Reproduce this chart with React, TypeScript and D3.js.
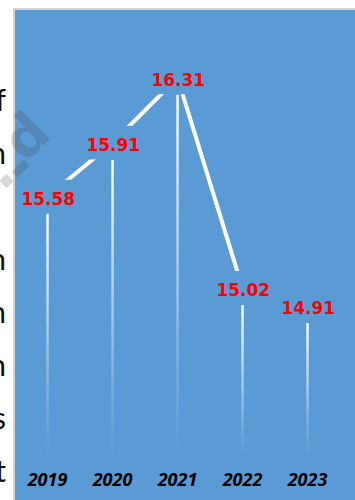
import React from "react";
import * as d3 from "d3";

const years = ["2019", "2020", "2021", "2022", "2023"];
const values = [15.58, 15.91, 16.31, 15.02, 14.91];
const trendYears = ["2019", "2020", "2021", "2022"];
const sideWords = ["", "of", "in", "", "in", "on", "in", "is", "at"];

const W = 355;
const H = 500;
const PANEL = "#5B9BD5";

export default function App() {
  const x = d3.scaleBand<string>().domain(years).range([15, 340]).padding(0);
  const y = d3.scaleLinear().domain([14.1, 16.5]).range([455, 63.8]);
  const cx = (yr: string) => (x(yr) as number) + x.bandwidth() / 2;
  const data = years.map((yr, i) => ({ yr, v: values[i] }));
  const trend = data.filter((d) => trendYears.includes(d.yr));
  const line = d3
    .line<{ yr: string; v: number }>()
    .x((d) => cx(d.yr))
    .y((d) => y(d.v) - 17);
  const boxH = 34;
  const boxW = 62;

  return (
    <svg
      width={W}
      height={H}
      style={{ position: "absolute", left: 0, top: 0, display: "block" }}
    >
      <defs>
        <linearGradient id="barGrad" x1="0" y1="0" x2="0" y2="1">
          <stop offset="0" stopColor="#ffffff" stopOpacity={0.95} />
          <stop offset="0.35" stopColor="#ffffff" stopOpacity={0.6} />
          <stop offset="0.75" stopColor="#ffffff" stopOpacity={0.2} />
          <stop offset="1" stopColor="#ffffff" stopOpacity={0} />
        </linearGradient>
      </defs>
      <rect x={0} y={0} width={W} height={H} fill="#ffffff" />
      {/* cropped side text */}
      {sideWords.map((w, i) => (
        <text
          key={i}
          x={6}
          y={58 + i * 53}
          textAnchor="end"
          fontFamily="Lato, 'Open Sans', sans-serif"
          fontSize={30}
          fill="#111"
        >
          {w}
        </text>
      ))}
      {/* panel */}
      <rect
        x={14}
        y={9}
        width={W}
        height={H}
        fill={PANEL}
        stroke="#D4D4D4"
        strokeWidth={2}
      />
      {/* bars (fading drop lines) */}
      {data.map((d) => (
        <rect
          key={d.yr}
          x={cx(d.yr) - 1.2}
          y={y(d.v)}
          width={2.5}
          height={y(14.1) - y(d.v)}
          fill="url(#barGrad)"
        />
      ))}
      {/* trend line */}
      <path
        d={line(trend) || ""}
        fill="none"
        stroke="#ffffff"
        strokeWidth={4}
        strokeLinejoin="miter"
      />
      {/* label boxes */}
      {data.map((d) => (
        <rect
          key={"b" + d.yr}
          x={cx(d.yr) - boxW / 2}
          y={y(d.v) - boxH}
          width={boxW}
          height={boxH - 0.5}
          fill={PANEL}
        />
      ))}
      {/* value labels */}
      {data.map((d) => (
        <text
          key={"l" + d.yr}
          x={cx(d.yr) + 0.8}
          y={y(d.v) - 9}
          textAnchor="middle"
          fontFamily="'DejaVu Sans', sans-serif"
          fontWeight="bold"
          fontSize={17}
          fill="#FF0000"
        >
          {d.v.toFixed(2)}
        </text>
      ))}
      {/* year labels */}
      {years.map((yr) => (
        <text
          key={"y" + yr}
          x={cx(yr)}
          y={486}
          textAnchor="middle"
          fontFamily="'Open Sans', sans-serif"
          fontWeight="bold"
          fontStyle="italic"
          fontSize={18}
          fill="#000"
        >
          {yr}
        </text>
      ))}
      {/* watermark */}
      <g transform="translate(7,182) rotate(-45)" fill="#404040" opacity={0.2}
        fontFamily="'DejaVu Sans', sans-serif" fontWeight="bold" fontSize={55}>
        <text x={-10} y={4}>.</text>
        <text x={8} y={16}>-</text>
        <text x={26} y={0}>d</text>
      </g>
    </svg>
  );
}
